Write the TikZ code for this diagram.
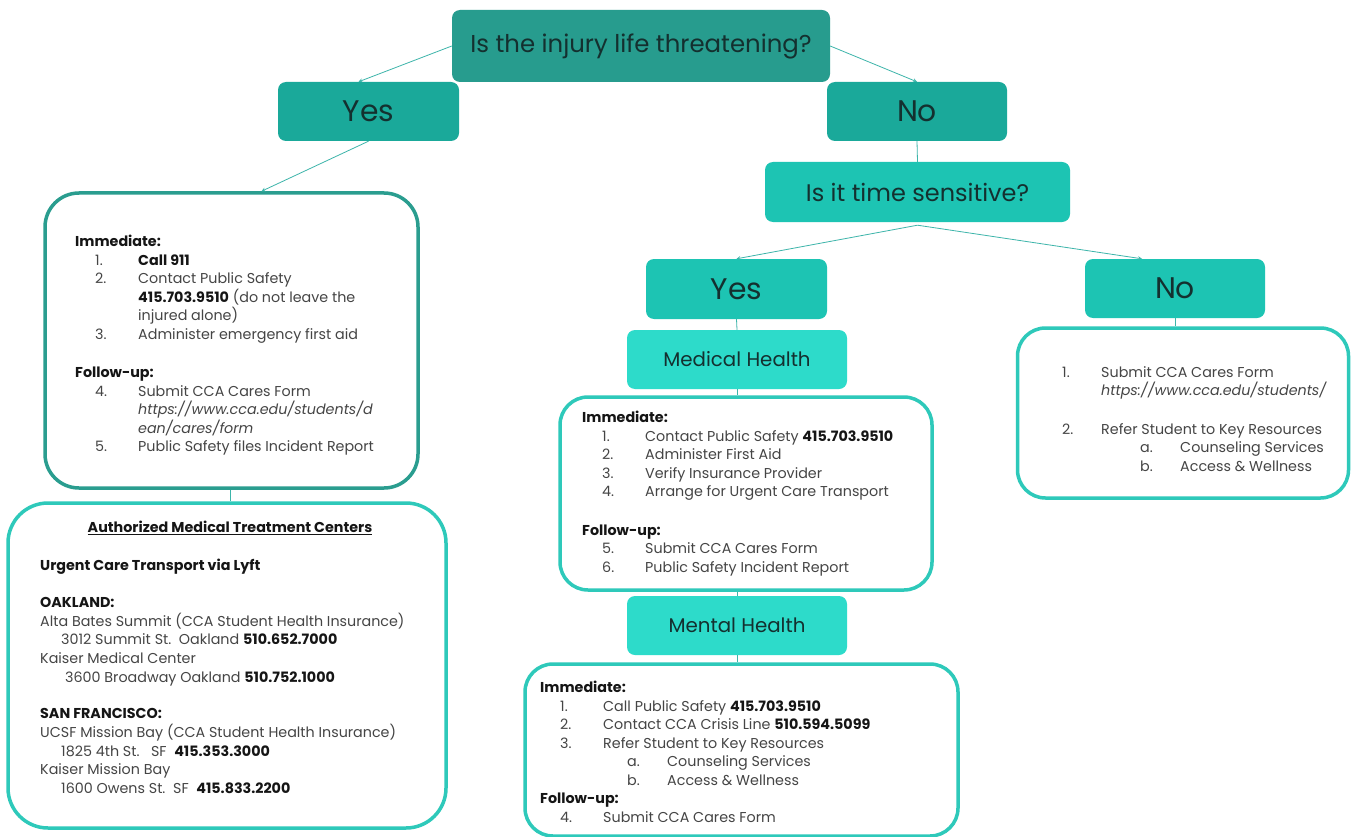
\documentclass[tikz,border=0pt]{standalone}
\usepackage{fontspec}
\setmainfont{Poppins}
\usepackage{xcolor}
\usetikzlibrary{arrows, positioning}
\definecolor{tealdark}{HTML}{279C8E}
\definecolor{tealmid}{HTML}{1AA99A}
\definecolor{tealbright}{HTML}{1DC4B3}
\definecolor{teallight}{HTML}{2DDBCA}
\definecolor{inkdark}{HTML}{14302F}
\definecolor{inkblack}{HTML}{151515}
\definecolor{inkgrey}{HTML}{454545}
\definecolor{linkteal}{HTML}{3DB5AA}
\definecolor{rimdark}{HTML}{2A9D8F}
\definecolor{rimbright}{HTML}{2EC9BA}
\tikzstyle{question} = [rectangle, rounded corners=8pt, text centered, text=inkdark, inner sep=0pt]
\tikzstyle{infobox} = [rectangle, rounded corners=28pt, draw=rimbright, line width=3.5pt, fill=white, inner sep=0pt]
\tikzstyle{listtext} = [anchor=north west, align=left, inner sep=0pt, text=inkgrey, font=\fontsize{14.3}{18.5}\selectfont]
\tikzstyle{arrow} = [->, >=stealth, draw=linkteal, line width=0.8pt]
\tikzstyle{link} = [draw=linkteal, line width=0.8pt]
\newcommand{\hd}[1]{\textcolor{inkblack}{\textbf{#1}}}
\newcommand{\nitem}[2]{\hspace*{20pt}\makebox[43pt][l]{#1}#2}
\newcommand{\sitem}[3][87pt]{\hspace*{#1}\makebox[40pt][l]{#2}#3}

\begin{document}
\begin{tikzpicture}[x=1pt, y=-1pt]
    \fill[white] (0,0) rectangle (1351,837);
    \useasboundingbox (0,0) rectangle (1351,837);

    % question and answer boxes
    \node (life) [question, fill=tealdark, minimum width=378pt, minimum height=72pt, font=\fontsize{24.4}{28}\selectfont] at (641,46) {Is the injury life threatening?};
    \node (yes1) [question, fill=tealmid, minimum width=181pt, minimum height=59pt, font=\fontsize{29.8}{33}\selectfont] at (368.5,111.5) {Yes};
    \node (no1) [question, fill=tealmid, minimum width=180pt, minimum height=59pt, font=\fontsize{29.8}{33}\selectfont] at (917,111.5) {No};
    \node (time) [question, fill=tealbright, minimum width=305pt, minimum height=60pt, font=\fontsize{24}{28}\selectfont] at (917.5,192) {Is it time sensitive?};
    \node (yes2) [question, fill=tealbright, minimum width=181pt, minimum height=60pt, font=\fontsize{29.8}{33}\selectfont] at (736.5,289) {Yes};
    \node (no2) [question, fill=tealbright, minimum width=180pt, minimum height=59pt, font=\fontsize{29.8}{33}\selectfont] at (1175,288.5) {No};
    \node (medical) [question, fill=teallight, minimum width=220pt, minimum height=59pt, font=\fontsize{19.8}{23}\selectfont] at (737,359.5) {Medical Health};
    \node (mental) [question, fill=teallight, minimum width=220pt, minimum height=59pt, font=\fontsize{19.8}{23}\selectfont] at (737,625.5) {Mental Health};

    % outlined boxes
    \node (lifebox) [infobox, draw=rimdark, rounded corners=34pt, minimum width=373pt, minimum height=295pt] at (231.5,340.5) {};
    \node (centers) [infobox, rounded corners=40pt, minimum width=438pt, minimum height=325pt] at (227,665.5) {};
    \node (medbox) [infobox, minimum width=372pt, minimum height=193pt] at (746,493.5) {};
    \node (mentbox) [infobox, minimum width=433pt, minimum height=172pt] at (741.5,750) {};
    \node (laterbox) [infobox, minimum width=331pt, minimum height=170pt] at (1183,413) {};

    % box texts
    \node (lifetxt) [listtext] at (75,235) {\hd{Immediate:}\\
        \nitem{1.}{\hd{Call 911}}\\
        \nitem{2.}{Contact Public Safety}\\
        \nitem{}{\hd{415.703.9510} (do not leave the}\\
        \nitem{}{injured alone)}\\
        \nitem{3.}{Administer emergency first aid}\\[20pt]
        \hd{Follow-up:}\\
        \nitem{4.}{Submit CCA Cares Form}\\
        \nitem{}{\textit{https://www.cca.edu/students/d}}\\
        \nitem{}{\textit{ean/cares/form}}\\
        \nitem{5.}{Public Safety files Incident Report}};
    \node (ctitle) [listtext, anchor=north] at (230,521) {\hd{\underline{Authorized Medical Treatment Centers}}};
    \node (ctxt) [listtext, font=\fontsize{14.3}{18.7}\selectfont] at (40,559) {\hd{Urgent Care Transport via Lyft}\\[18pt]
        \hd{OAKLAND:}\\
        Alta Bates Summit (CCA Student Health Insurance)\\
        \hspace*{21pt}3012 Summit St.\ \ Oakland \hd{510.652.7000}\\
        Kaiser Medical Center\\
        \hspace*{25pt}3600 Broadway Oakland \hd{510.752.1000}\\[18pt]
        \hd{SAN FRANCISCO:}\\
        UCSF Mission Bay (CCA Student Health Insurance)\\
        \hspace*{21pt}1825 4th St.\ \ \ SF\ \ \hd{415.353.3000}\\
        Kaiser Mission Bay\\
        \hspace*{21pt}1600 Owens St.\ \ SF\ \ \hd{415.833.2200}};
    \node (medtxt) [listtext] at (582,411) {\hd{Immediate:}\\
        \nitem{1.}{Contact Public Safety \hd{415.703.9510}}\\
        \nitem{2.}{Administer First Aid}\\
        \nitem{3.}{Verify Insurance Provider}\\
        \nitem{4.}{Arrange for Urgent Care Transport}\\[20pt]
        \hd{Follow-up:}\\
        \nitem{5.}{Submit CCA Cares Form}\\
        \nitem{6.}{Public Safety Incident Report}};
    \node (menttxt) [listtext] at (540,681) {\hd{Immediate:}\\
        \nitem{1.}{Call Public Safety \hd{415.703.9510}}\\
        \nitem{2.}{Contact CCA Crisis Line \hd{510.594.5099}}\\
        \nitem{3.}{Refer Student to Key Resources}\\
        \sitem{a.}{Counseling Services}\\
        \sitem{b.}{Access \& Wellness}\\
        \hd{Follow-up:}\\
        \nitem{4.}{Submit CCA Cares Form}};
    \node (latertxt) [listtext] at (1042,366) {\hspace*{20pt}\makebox[39pt][l]{1.}Submit CCA Cares Form\\
        \hspace*{59pt}\textit{https://www.cca.edu/students/}\\[20pt]
        \hspace*{20pt}\makebox[39pt][l]{2.}Refer Student to Key Resources\\
        \sitem[98pt]{a.}{Counseling Services}\\
        \sitem[98pt]{b.}{Access \& Wellness}};

    % connectors
    \draw [arrow] (life.west) -- ([xshift=-10pt]yes1.north);
    \draw [arrow] (life.east) -- (no1.north);
    \draw [arrow] (yes1.south) -- ([xshift=30pt]lifebox.north);
    \draw [link] (no1.south) -- (time.north);
    \draw [arrow] ([yshift=-3pt]time.south) -- (yes2.north);
    \draw [arrow] ([yshift=-3pt]time.south) -- ([xshift=-33pt]no2.north);
    \draw [link] (yes2.south) -- (medical.north);
    \draw [link] (medical.south) -- (medical.south |- medbox.north);
    \draw [link] (medical.south |- medbox.south) -- (mental.north);
    \draw [link] (mental.south) -- (mental.south |- mentbox.north);
    \draw [link] (no2.south) -- (no2.south |- laterbox.north);
    \draw [link] ([xshift=-1pt]lifebox.south) -- ([xshift=-1pt]lifebox.south |- centers.north);
\end{tikzpicture}
\end{document}
